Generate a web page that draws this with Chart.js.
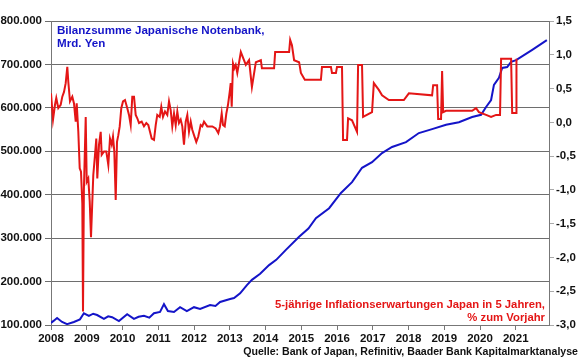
<!DOCTYPE html>
<html>
<head>
<meta charset="utf-8">
<script src="https://cdn.jsdelivr.net/npm/chart.js@4/dist/chart.umd.min.js"></script>
<style>
html,body{margin:0;padding:0;background:#fff;}
#wrap{width:580px;height:359px;position:relative;}
</style>
</head>
<body>
<div id="wrap"><canvas id="c" width="580" height="359"></canvas></div>
<script>
// X axis ticks (years)
const yearTicks = [2008,2009,2010,2011,2012,2013,2014,2015,2016,2017,2018,2019,2020,2021];

// Balance sheet Bank of Japan, bn Yen (shown as "x.000")
const blueYears = [2008.0,2008.08,2008.17,2008.31,2008.45,2008.64,2008.81,2008.92,2009.06,2009.18,2009.29,2009.48,2009.60,2009.71,2009.90,2010.13,2010.32,2010.45,2010.60,2010.75,2010.88,2011.05,2011.16,2011.27,2011.44,2011.61,2011.80,2012.0,2012.17,2012.45,2012.60,2012.73,2013.01,2013.12,2013.29,2013.48,2013.62,2013.85,2014.10,2014.30,2014.57,2014.94,2015.20,2015.41,2015.78,2016.11,2016.42,2016.70,2016.98,2017.26,2017.54,2017.93,2018.29,2018.66,2019.05,2019.41,2019.78,2020.03,2020.17,2020.31,2020.39,2020.53,2020.62,2020.76,2020.87,2021.01,2021.45,2021.87];
const blueValues = [105,110,116,107,102,107,113,127,121,126,123,114,120,118,109,125,114,119,121,117,127,130,148,132,130,141,132,141,137,146,144,153,160,162,173,192,204,218,238,250,273,303,322,346,369,404,429,462,475,496,510,521,542,551,561,567,579,584,602,618,653,669,692,694,706,710,733,756];

// 5-year inflation expectations Japan, % y/y
const redYears = [2008.0,2008.056,2008.112,2008.148,2008.204,2008.271,2008.316,2008.364,2008.411,2008.456,2008.484,2008.531,2008.596,2008.643,2008.691,2008.719,2008.764,2008.803,2008.839,2008.876,2008.895,2008.92,2008.971,2008.999,2009.043,2009.083,2009.119,2009.183,2009.231,2009.267,2009.295,2009.343,2009.390,2009.418,2009.483,2009.547,2009.603,2009.650,2009.698,2009.734,2009.771,2009.810,2009.846,2009.883,2009.922,2009.966,2010.014,2010.070,2010.134,2010.182,2010.229,2010.274,2010.322,2010.369,2010.414,2010.462,2010.537,2010.601,2010.666,2010.722,2010.769,2010.817,2010.881,2010.929,2010.973,2011.041,2011.085,2011.133,2011.189,2011.253,2011.301,2011.348,2011.393,2011.441,2011.488,2011.533,2011.580,2011.628,2011.673,2011.720,2011.768,2011.813,2011.860,2011.908,2011.952,2012.000,2012.064,2012.120,2012.187,2012.232,2012.280,2012.372,2012.512,2012.607,2012.680,2012.727,2012.775,2012.811,2012.859,2012.904,2012.951,2012.999,2013.027,2013.055,2013.091,2013.127,2013.166,2013.211,2013.31,2013.45,2013.54,2013.62,2013.73,2013.87,2013.90,2014.24,2014.27,2014.66,2014.69,2014.74,2014.80,2014.94,2014.99,2015.10,2015.55,2015.58,2015.83,2015.86,2015.97,2016.00,2016.14,2016.17,2016.28,2016.31,2016.42,2016.56,2016.59,2016.70,2016.73,2016.98,2017.03,2017.17,2017.26,2017.45,2017.87,2018.01,2018.66,2018.69,2018.80,2018.83,2018.91,2018.94,2018.97,2019.05,2019.78,2019.89,2019.97,2020.17,2020.31,2020.45,2020.56,2020.59,2020.87,2020.90,2021.01,2021.02];
const redValues = [0.43,0.04,0.26,0.36,0.21,0.26,0.38,0.45,0.58,0.82,0.60,0.31,0.38,0.28,0.01,0.28,-0.14,-0.68,-0.73,-1.20,-2.80,-1.00,0.08,-0.88,-0.83,-1.17,-1.70,-0.78,-0.48,-0.24,-0.83,-0.33,-0.14,-0.48,-0.43,-0.43,-0.63,-0.24,-0.33,-0.21,-0.43,-1.15,-0.29,-0.19,-0.06,0.21,0.31,0.33,0.21,0.11,-0.04,0.38,0.38,0.11,0.06,-0.01,0.01,-0.06,-0.01,-0.04,-0.14,-0.24,-0.26,-0.04,0.11,0.08,0.23,0.08,0.16,0.11,0.31,0.18,-0.06,0.13,-0.04,0.16,-0.01,0.04,-0.06,-0.33,0.01,0.11,-0.14,0.01,-0.11,-0.19,-0.29,-0.21,-0.04,-0.06,0.01,-0.06,-0.06,-0.09,-0.16,-0.06,0.13,-0.04,-0.06,0.13,0.26,0.45,0.58,0.23,0.87,0.80,0.85,0.73,1.04,0.85,0.92,0.52,0.89,0.92,0.80,0.80,1.04,1.04,1.22,1.14,0.92,0.89,0.73,0.63,0.63,0.82,0.82,0.73,0.73,0.82,0.82,-0.26,-0.26,0.06,0.03,-0.14,0.85,0.85,0.08,0.15,0.58,0.48,0.40,0.33,0.33,0.43,0.40,0.55,0.55,0.05,0.05,0.76,0.15,0.17,0.17,0.21,0.15,0.11,0.08,0.11,0.11,0.94,0.94,0.14,0.14,0.94];

const leftTicks = [100,200,300,400,500,600,700,800];
const rightTicks = [-3.0,-2.5,-2.0,-1.5,-1.0,-0.5,0.0,0.5,1.0,1.5];

const FONT = '"Liberation Sans", Arial, sans-serif';
const BLUE = 'rgb(20,20,200)';
const RED = 'rgb(228,22,22)';

const textPlugin = {
  id: 'texts',
  afterDraw(chart) {
    const ctx = chart.ctx;
    ctx.save();
    ctx.textBaseline = 'middle';
    ctx.font = 'bold 11.6px ' + FONT;
    ctx.fillStyle = BLUE;
    ctx.textAlign = 'left';
    ctx.fillText('Bilanzsumme Japanische Notenbank,', 57, 31);
    ctx.fillText('Mrd. Yen', 57, 44);
    ctx.fillStyle = RED;
    ctx.textAlign = 'right';
    ctx.font = 'bold 11.3px ' + FONT;
    ctx.fillText('5-jährige Inflationserwartungen Japan in 5 Jahren,', 545, 305);
    ctx.fillText('% zum Vorjahr', 545, 318);
    ctx.fillStyle = '#111';
    ctx.font = 'bold 10.6px ' + FONT;
    ctx.fillText('Quelle: Bank of Japan, Refinitiv, Baader Bank Kapitalmarktanalyse', 578, 352);
    ctx.restore();
  }
};

new Chart(document.getElementById('c'), {
  type: 'line',
  data: {
    datasets: [
      {
        label: 'Inflationserwartungen',
        data: redYears.map((x,i)=>({x, y: redValues[i]})),
        yAxisID: 'y2',
        borderColor: RED,
        borderWidth: 2,
        pointRadius: 0,
        tension: 0
      },
      {
        label: 'Bilanzsumme',
        data: blueYears.map((x,i)=>({x, y: blueValues[i]})),
        yAxisID: 'y',
        borderColor: BLUE,
        borderWidth: 2,
        pointRadius: 0,
        tension: 0
      }
    ]
  },
  options: {
    responsive: false,
    animation: false,
    layout: { padding: { top: 21, left: 0, right: 0, bottom: 0 } },
    plugins: { legend: { display: false }, tooltip: { enabled: false } },
    scales: {
      x: {
        type: 'linear',
        min: 2008,
        max: 2021.93,
        afterBuildTicks: s => { s.ticks = yearTicks.map(v => ({ value: v })); },
        afterFit: s => { s.height = 34; },
        grid: { drawOnChartArea: false, drawTicks: true, tickLength: 5, color: '#777' },
        border: { color: '#777', width: 1 },
        ticks: {
          autoSkip: false, maxRotation: 0, padding: 2,
          font: { family: FONT, size: 11.5, weight: 'bold' }, color: '#111',
          callback: v => String(v)
        }
      },
      y: {
        position: 'left',
        min: 100, max: 800,
        afterBuildTicks: s => { s.ticks = leftTicks.map(v => ({ value: v })); },
        afterFit: s => { s.width = 51; },
        grid: { drawOnChartArea: true, drawTicks: true, tickLength: 6, color: '#6e6e6e' },
        border: { color: '#777', width: 1 },
        ticks: {
          padding: 3,
          font: { family: FONT, size: 11.5, weight: 'bold' }, color: '#111',
          callback: v => v + '.000'
        }
      },
      y2: {
        position: 'right',
        min: -3, max: 1.5,
        afterBuildTicks: s => { s.ticks = rightTicks.map(v => ({ value: v })); },
        afterFit: s => { s.width = 31; },
        grid: { drawOnChartArea: false, drawTicks: true, tickLength: 5, color: '#aaa' },
        border: { color: '#777', width: 1 },
        ticks: {
          padding: 2,
          font: { family: FONT, size: 11.5, weight: 'bold' }, color: '#111',
          callback: v => v.toFixed(1).replace('.', ',')
        }
      }
    }
  },
  plugins: [textPlugin]
});
</script>
</body>
</html>
